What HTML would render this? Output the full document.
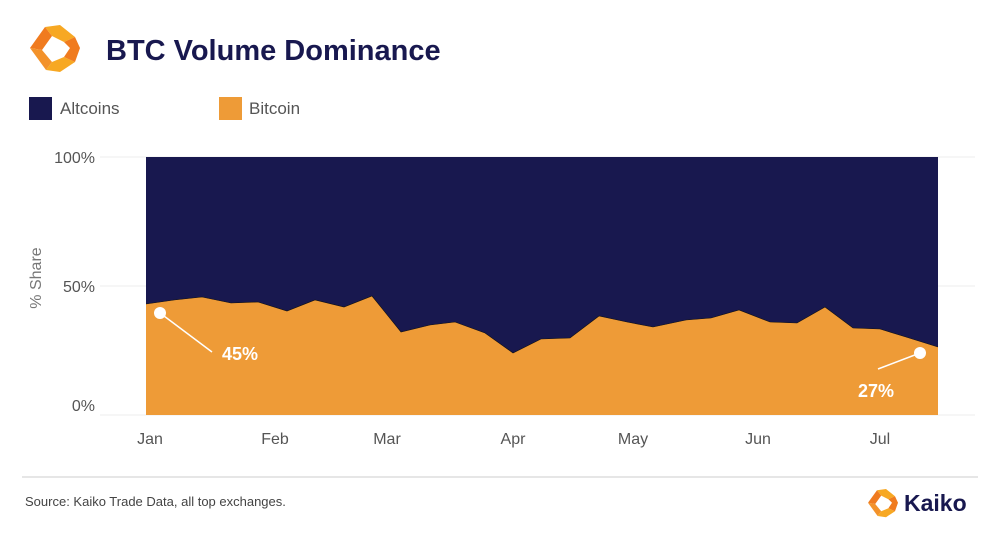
<!DOCTYPE html>
<html><head><meta charset="utf-8"><style>
body{margin:0;background:#fff;width:1000px;height:528px;overflow:hidden;font-family:"Liberation Sans",sans-serif}
</style></head><body>
<svg width="1000" height="528" xmlns="http://www.w3.org/2000/svg" font-family="Liberation Sans, sans-serif">
<g>
<polygon points="45,27 60,25 75,37 64,42 52,36" fill="#f7a823"/>
<polygon points="30,48 45,27 52,36 42,50" fill="#f07b1f"/>
<polygon points="42,50 52,62 46,70 30,48" fill="#f3922a"/>
<polygon points="52,62 64,57 75,62 60,72 46,70" fill="#f7a823"/>
<polygon points="75,37 80,48 75,62 64,57 70,48 64,42" fill="#f07b1f"/>
</g>
<text x="106" y="60" font-size="29" font-weight="bold" fill="#18184f">BTC Volume Dominance</text>
<rect x="29" y="97" width="23" height="23" fill="#18184f"/>
<text x="60" y="114" font-size="17" fill="#555">Altcoins</text>
<rect x="219" y="97" width="23" height="23" fill="#ee9b37"/>
<text x="249" y="114" font-size="17" fill="#555">Bitcoin</text>
<line x1="100" y1="157" x2="975" y2="157" stroke="#eee"/>
<line x1="100" y1="286" x2="975" y2="286" stroke="#eee"/>
<line x1="100" y1="415" x2="975" y2="415" stroke="#eee"/>
<rect x="146" y="157" width="792" height="258" fill="#18184f"/>
<polygon fill="#ee9b37" points="146,304 174,300 202,297 231,303 258,302 287,311 315,300 344,307 372,296 401,332 430,325 455,322 485,333 513,353 541,339 570,338 599,316 627,322 653,327 686,320 711,318 739,310 770,322 797,323 825,307 853,328 880,329 906,337 938,347 938,415 146,415"/>
<polyline fill="none" stroke="#111" stroke-width="0.6" points="146,304 174,300 202,297 231,303 258,302 287,311 315,300 344,307 372,296 401,332 430,325 455,322 485,333 513,353 541,339 570,338 599,316 627,322 653,327 686,320 711,318 739,310 770,322 797,323 825,307 853,328 880,329 906,337 938,347"/>
<line x1="160" y1="313" x2="212" y2="352" stroke="#fff" stroke-width="1.5"/>
<circle cx="160" cy="313" r="6" fill="#fff"/>
<text x="222" y="360" font-size="18" font-weight="bold" fill="#fff">45%</text>
<line x1="920" y1="353" x2="878" y2="369" stroke="#fff" stroke-width="1.5"/>
<circle cx="920" cy="353" r="6" fill="#fff"/>
<text x="858" y="397" font-size="18" font-weight="bold" fill="#fff">27%</text>
<g font-size="16" fill="#555" text-anchor="end">
<text x="95" y="163">100%</text>
<text x="95" y="292">50%</text>
<text x="95" y="411">0%</text>
</g>
<text transform="translate(41,278) rotate(-90)" font-size="16" fill="#777" text-anchor="middle">% Share</text>
<g font-size="16" fill="#555" text-anchor="middle">
<text x="150" y="444">Jan</text>
<text x="275" y="444">Feb</text>
<text x="387" y="444">Mar</text>
<text x="513" y="444">Apr</text>
<text x="633" y="444">May</text>
<text x="758" y="444">Jun</text>
<text x="880" y="444">Jul</text>
</g>
<line x1="22" y1="477" x2="978" y2="477" stroke="#ccc"/>
<text x="25" y="506" font-size="13" fill="#444">Source: Kaiko Trade Data, all top exchanges.</text>
<g transform="translate(868,489) scale(0.6)">
<polygon points="15,2 30,0 45,12 34,17 22,11" fill="#f7a823"/>
<polygon points="0,23 15,2 22,11 12,25" fill="#f07b1f"/>
<polygon points="12,25 22,37 16,45 0,23" fill="#f3922a"/>
<polygon points="22,37 34,32 45,37 30,47 16,45" fill="#f7a823"/>
<polygon points="45,12 50,23 45,37 34,32 40,23 34,17" fill="#f07b1f"/>
</g>
<text x="904" y="511" font-size="23" font-weight="bold" fill="#18184f">Kaiko</text>
</svg>
</body></html>
